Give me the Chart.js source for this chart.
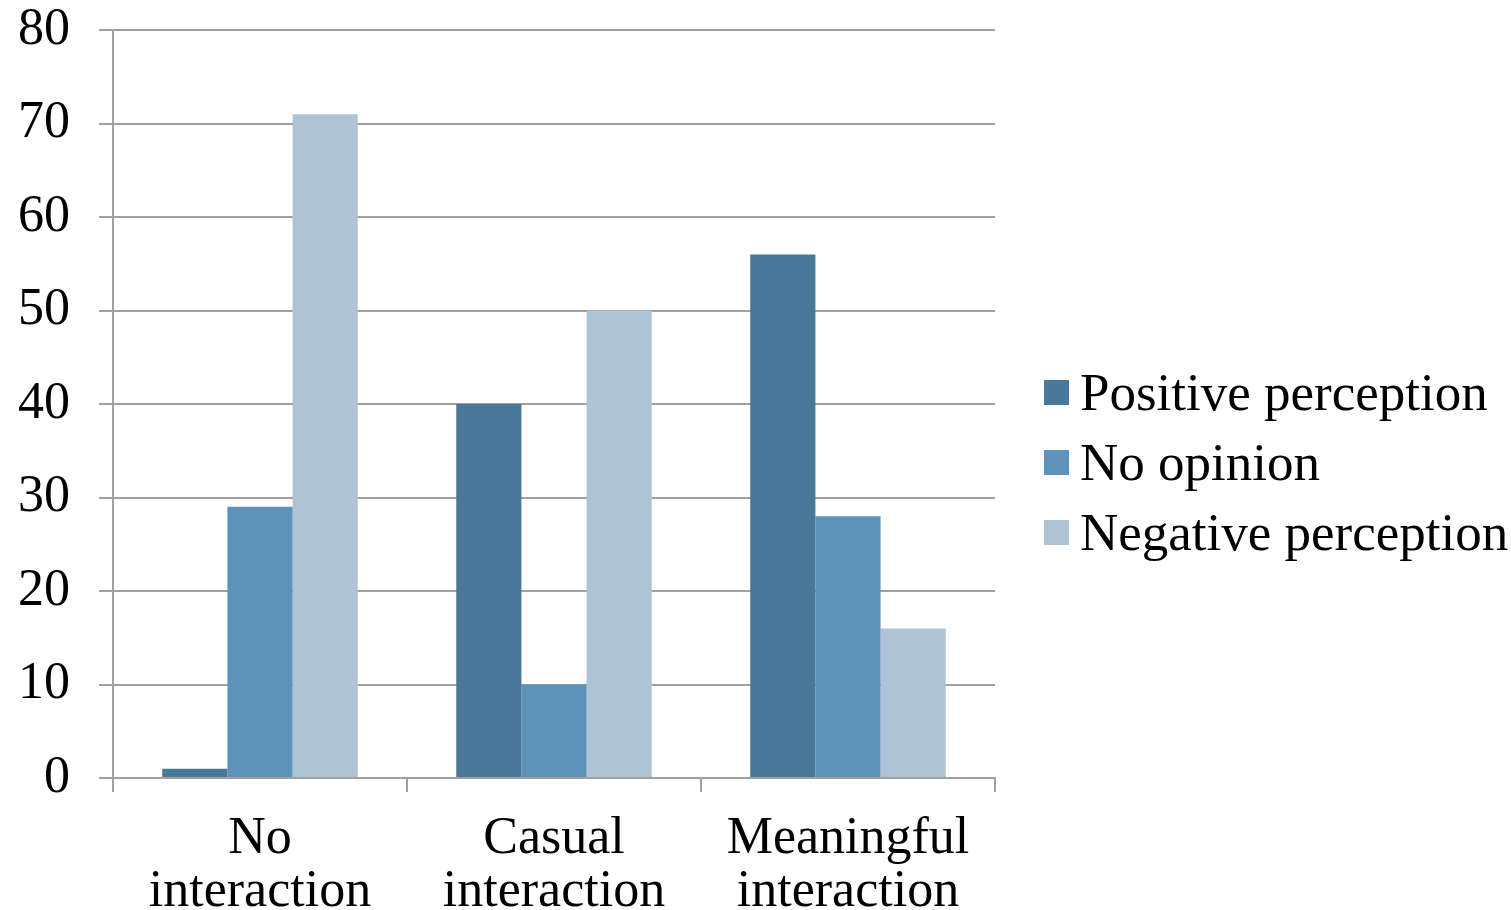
<!DOCTYPE html>
<html>
<head>
<meta charset="utf-8">
<script src="https://cdn.jsdelivr.net/npm/chart.js@4.4.0/dist/chart.umd.min.js"></script>
<style>
  html, body { margin: 0; padding: 0; background: #fff; overflow: hidden; }
  #wrap { position: relative; width: 1511px; height: 910px; }
  #legend { position: absolute; left: 1044px; top: 357px; font-family: 'Liberation Serif', serif; font-size: 53px; color: #000; }
  #legend .row { display: flex; align-items: center; height: 70px; white-space: nowrap; }
  #legend .box { width: 25px; height: 25px; margin-right: 11px; }
</style>
</head>
<body>
<div id="wrap">
  <canvas id="myChart"></canvas>
  <div id="legend"></div>
</div>
<script>
  var categories = [['No', 'interaction'], ['Casual', 'interaction'], ['Meaningful', 'interaction']];
  var seriesNames = ['Positive perception', 'No opinion', 'Negative perception'];
  var positive = [1, 40, 56];
  var noOpinion = [29, 10, 28];
  var negative = [71, 50, 16];
  var yMin = 0, yMax = 80, yStep = 10;

  var colors = ['#4a7898', '#5d93b9', '#aec3d5'];
  var gridColor = '#a0a0a0';
  var font = { family: "'Liberation Serif', serif", size: 52 };

  var ctx = document.getElementById('myChart');

  var myChart = new Chart(ctx, {
    type: 'bar',
    data: {
      labels: categories,
      datasets: [
        { label: seriesNames[0], data: positive, backgroundColor: colors[0] },
        { label: seriesNames[1], data: noOpinion, backgroundColor: colors[1] },
        { label: seriesNames[2], data: negative, backgroundColor: colors[2] }
      ]
    },
    options: {
      responsive: true,
      maintainAspectRatio: false,
      animation: false,
      layout: { padding: { top: 30, right: 516, bottom: 0, left: 0 } },
      datasets: { bar: { categoryPercentage: 0.665, barPercentage: 1.0 } },
      plugins: {
        legend: { display: false },
        tooltip: { enabled: false }
      },
      scales: {
        x: {
          grid: { offset: true, drawOnChartArea: false, color: gridColor, lineWidth: 2, tickLength: 14 },
          border: { color: gridColor, width: 2 },
          ticks: { color: '#000', font: { family: font.family, size: font.size, lineHeight: 1.02 }, padding: 21, maxRotation: 0 },
          afterFit: function(scale) {
            scale.height = 132;
            scale.paddingLeft = 0;
            scale.paddingRight = 0;
          }
        },
        y: {
          min: yMin,
          max: yMax,
          grid: { color: gridColor, lineWidth: 2, tickLength: 14 },
          border: { color: gridColor, width: 2 },
          ticks: { stepSize: yStep, color: '#000', font: font, padding: 29 },
          afterFit: function(scale) {
            scale.width = 113;
            scale.paddingTop = 0;
            scale.paddingBottom = 0;
          }
        }
      }
    }
  });

  // legend built from the chart's datasets
  var legendEl = document.getElementById('legend');
  myChart.data.datasets.forEach(function(ds) {
    var row = document.createElement('div');
    row.className = 'row';
    var box = document.createElement('span');
    box.className = 'box';
    box.style.background = ds.backgroundColor;
    var txt = document.createElement('span');
    txt.textContent = ds.label;
    row.appendChild(box);
    row.appendChild(txt);
    legendEl.appendChild(row);
  });
</script>
</body>
</html>
